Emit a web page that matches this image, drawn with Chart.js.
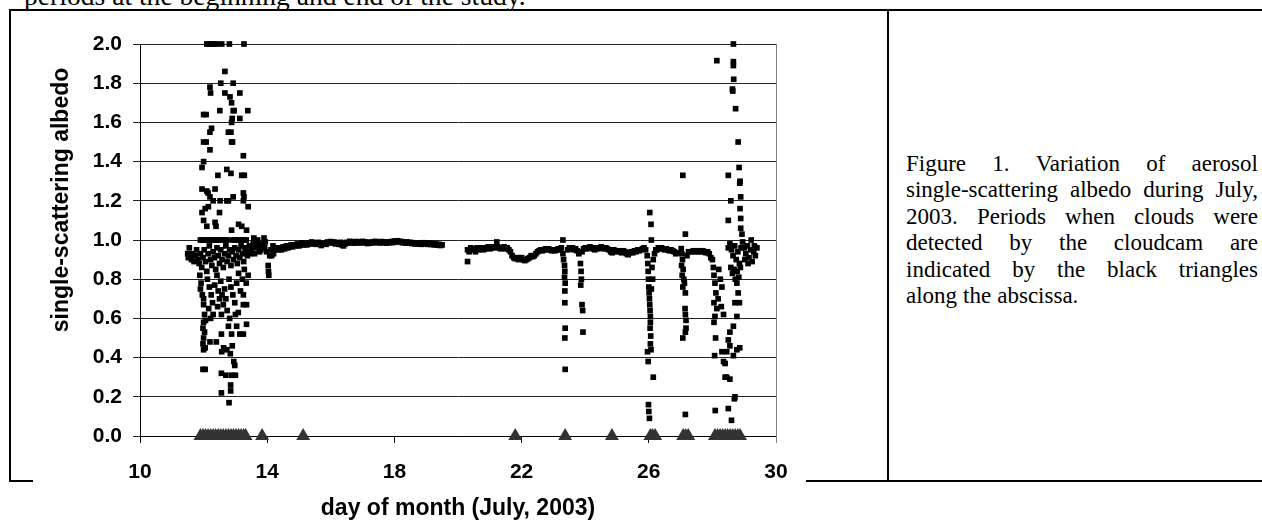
<!DOCTYPE html>
<html>
<head>
<meta charset="utf-8">
<script src="https://cdn.jsdelivr.net/npm/chart.js@4"></script>
<style>
  html, body { margin: 0; padding: 0; background: #fff; }
  body { width: 1262px; height: 520px; position: relative; overflow: hidden; }
  #chart { position: absolute; left: 0; top: 0; }
  .rule { position: absolute; background: #000; }
  #lead { position: absolute; left: 24px; top: -18px; font: 27.6px/27.6px "Liberation Serif", "Times New Roman", serif; white-space: nowrap; }
  #caption { position: absolute; left: 906px; top: 151px; width: 352px; font: 23px "Liberation Serif", "Times New Roman", serif; line-height: 26.4px; }
  #caption div { white-space: nowrap; display: flex; justify-content: space-between; }
  #caption div.last { justify-content: flex-start; gap: 6px; }
</style>
</head>
<body>
<div id="lead">periods at the beginning and end of the study.</div>
<canvas id="chart" width="880" height="522"></canvas>
<div class="rule" style="left:9px; top:9px; width:1253px; height:2px;"></div>
<div class="rule" style="left:9px; top:9px; width:2px; height:473px;"></div>
<div class="rule" style="left:9px; top:480px; width:24px; height:2px;"></div>
<div class="rule" style="left:806px; top:480px; width:456px; height:2px;"></div>
<div class="rule" style="left:887px; top:9px; width:2px; height:473px;"></div>
<div id="caption"></div>

<script>
// single-scattering albedo, [day of July 2003, value]
const earlyBurst = [
  [12.10,2.00],[12.16,2.00],[12.22,2.00],[12.28,2.00],[12.34,2.00],[12.40,2.00],[12.57,2.00],[12.81,2.00],[13.27,2.00],
  [12.67,1.86],[12.54,1.80],[12.93,1.80],[12.20,1.78],[12.22,1.75],[12.67,1.75],[13.14,1.75],[12.83,1.73],[12.88,1.70],
  [12.51,1.66],[12.93,1.66],[12.96,1.66],[13.39,1.66],[13.14,1.62],[12.88,1.60],[12.90,1.62],
  [12.00,1.64],[12.08,1.64],[12.25,1.57],[12.20,1.55],[12.78,1.55],[12.86,1.55],
  [12.00,1.50],[12.08,1.50],[12.20,1.46],[12.88,1.50],[12.91,1.50],[13.25,1.43],
  [12.00,1.40],[11.95,1.37],[12.45,1.33],[12.73,1.36],[12.86,1.34],[13.20,1.33],[13.28,1.33],
  [11.95,1.26],[12.10,1.25],[12.14,1.24],[12.36,1.26],[13.25,1.24],[13.27,1.22],
  [12.20,1.22],[12.30,1.20],[12.52,1.20],[12.73,1.20],[12.78,1.20],[12.93,1.22],[13.25,1.20],
  [11.95,1.14],[12.05,1.16],[12.15,1.17],[12.50,1.14],[13.40,1.17],
  [12.00,1.10],[12.10,1.07],[12.36,1.09],[12.39,1.07],[12.88,1.05],[13.10,1.08],[13.20,1.07],[13.35,1.05],
  [11.90,1.00],[11.96,1.00],[12.02,1.00],[12.08,1.00],[12.14,1.00],[12.20,1.00],[12.26,1.00],[12.32,1.00],
  [12.38,1.00],[12.44,1.00],[12.50,1.00],[12.56,1.00],[12.62,1.00],[12.68,1.00],[12.74,1.00],[12.92,1.00],
  [12.98,1.00],[13.04,1.00],[13.10,1.00],[13.16,1.00],[13.22,1.00],[13.28,1.00],[13.34,1.00],
  [11.55,0.96],[11.50,0.93],[11.52,0.91],[11.58,0.92],[11.62,0.90],[11.66,0.93],[11.70,0.89],[11.74,0.92],
  [11.78,0.95],[11.82,0.90],[11.86,0.88],[11.90,0.93],[11.94,0.86],[11.98,0.91],[12.02,0.95],[12.06,0.89],
  [12.10,0.84],[12.14,0.93],[12.18,0.97],[12.22,0.90],[12.26,0.87],[12.30,0.94],[12.34,0.91],[12.38,0.85],
  [12.42,0.96],[12.46,0.92],[12.50,0.88],[12.54,0.95],[12.58,0.90],[12.62,0.86],[12.66,0.93],[12.70,0.97],
  [12.74,0.89],[12.78,0.92],[12.82,0.95],[12.86,0.87],[12.90,0.94],[12.94,0.90],[12.98,0.96],[13.02,0.92],
  [13.06,0.88],[13.10,0.95],[13.14,0.91],[13.18,0.97],[13.22,0.93],[13.26,0.89],[13.30,0.96],[13.34,0.94],[13.38,0.92],
  [11.88,0.82],[11.92,0.78],[11.90,0.75],[11.96,0.72],[12.00,0.70],[12.00,0.67],[12.03,0.62],[12.00,0.58],
  [12.06,0.59],[11.98,0.55],[12.03,0.53],[12.00,0.50],[11.98,0.47],[12.20,0.48],[12.00,0.44],[12.05,0.45],
  [12.40,0.48],[11.98,0.34],[12.05,0.34],
  [12.12,0.80],[12.18,0.76],[12.24,0.72],[12.28,0.68],[12.16,0.65],[12.30,0.62],[12.22,0.60],[12.35,0.77],
  [12.42,0.82],[12.46,0.74],[12.50,0.70],[12.44,0.66],[12.54,0.79],[12.58,0.72],[12.62,0.67],[12.56,0.62],
  [12.66,0.75],[12.70,0.70],[12.74,0.64],[12.56,0.52],[12.73,0.44],[12.57,0.43],[12.63,0.45],
  [12.56,0.32],[12.70,0.31],[12.56,0.22],[12.80,0.17],[12.85,0.23],[12.85,0.26],[12.88,0.31],[12.98,0.36],
  [13.00,0.31],[12.95,0.38],[12.84,0.42],[12.90,0.46],
  [12.88,0.52],[13.04,0.56],[13.14,0.52],[13.25,0.52],[13.09,0.63],[13.25,0.67],[13.35,0.67],[13.35,0.57],
  [13.25,0.72],[12.80,0.80],[12.86,0.76],[12.92,0.72],[12.98,0.68],[13.04,0.78],[13.10,0.83],[13.16,0.74],
  [13.22,0.80],[13.28,0.85],[13.34,0.78],[13.40,0.82],[13.00,0.62],[12.82,0.60],[12.78,0.56],
  [13.44,0.97],[13.50,0.95],[13.56,0.98],[13.62,0.96],[13.68,0.99],[13.74,0.97],[13.80,0.95],[13.86,0.98],
  [13.92,0.96],[13.98,0.94],[14.03,0.87],[14.04,0.84],[14.05,0.82],[14.08,0.92],[14.12,0.95],[14.18,0.97],
  [14.24,0.95],[14.30,0.96],[13.58,1.01],[13.70,1.00],[13.90,1.01],[13.46,0.93],[13.60,0.93],[13.76,0.94],
  [13.94,0.99],[14.14,0.92],[14.20,0.93],[14.36,0.95],[14.42,0.96]
];

const cleanPeriod = [
  [14.45,0.950],[14.50,0.965],[14.55,0.955],[14.60,0.970],[14.65,0.960],[14.70,0.965],[14.75,0.975],[14.80,0.965],
  [14.85,0.975],[14.90,0.970],[14.95,0.980],[15.00,0.970],[15.05,0.975],[15.10,0.985],[15.15,0.975],[15.20,0.980],
  [15.25,0.975],[15.30,0.985],[15.35,0.980],[15.40,0.990],[15.45,0.980],[15.50,0.985],[15.55,0.978],[15.60,0.988],
  [15.65,0.980],[15.70,0.972],[15.75,0.980],[15.80,0.985],[15.85,0.978],[15.90,0.990],[15.95,0.985],[16.00,0.992],
  [16.05,0.985],[16.10,0.990],[16.15,0.980],[16.20,0.985],[16.25,0.978],[16.30,0.988],[16.35,0.975],[16.40,0.970],
  [16.45,0.980],[16.50,0.988],[16.55,0.985],[16.60,0.993],[16.65,0.985],[16.70,0.990],[16.75,0.984],[16.80,0.992],
  [16.85,0.986],[16.90,0.990],[16.95,0.985],[17.00,0.993],[17.05,0.987],[17.10,0.990],[17.15,0.982],[17.20,0.988],
  [17.25,0.984],[17.30,0.990],[17.35,0.986],[17.40,0.993],[17.45,0.987],[17.50,0.990],[17.55,0.985],[17.60,0.992],
  [17.65,0.986],[17.70,0.990],[17.75,0.984],[17.80,0.990],[17.85,0.986],[17.90,0.992],[17.95,0.987],[18.00,0.995],
  [18.05,0.990],[18.10,0.996],[18.15,0.990],[18.20,0.993],[18.25,0.986],[18.30,0.990],[18.35,0.984],[18.40,0.990],
  [18.45,0.985],[18.50,0.988],[18.55,0.982],[18.60,0.986],[18.65,0.980],[18.70,0.985],[18.75,0.979],[18.80,0.984],
  [18.85,0.978],[18.90,0.986],[18.95,0.980],[19.00,0.984],[19.05,0.978],[19.10,0.983],[19.15,0.977],[19.20,0.982],
  [19.25,0.975],[19.30,0.980],[19.35,0.974],[19.40,0.978],[19.45,0.972],[19.50,0.975]
];

const midPeriod = [
  [20.30,0.89],[20.30,0.95],[20.35,0.94],[20.40,0.96],[20.45,0.95],[20.50,0.955],[20.55,0.94],[20.60,0.96],
  [20.65,0.95],[20.70,0.955],[20.75,0.96],[20.80,0.95],[20.85,0.955],[20.90,0.96],[20.95,0.965],[21.00,0.955],
  [21.05,0.96],[21.10,0.965],[21.15,0.96],[21.22,0.99],[21.25,0.965],[21.30,0.96],[21.35,0.955],[21.40,0.96],
  [21.45,0.965],[21.50,0.955],[21.55,0.96],[21.60,0.95],[21.65,0.94],[21.70,0.92],[21.75,0.91],[21.80,0.905],
  [21.85,0.91],[21.90,0.90],[21.95,0.905],[22.00,0.91],[22.05,0.90],[22.10,0.895],[22.15,0.90],[22.20,0.905],
  [22.25,0.91],[22.30,0.92],[22.35,0.915],[22.40,0.92],[22.45,0.93],[22.50,0.94],[22.55,0.945],[22.60,0.95],
  [22.65,0.945],[22.70,0.95],[22.75,0.955],[22.80,0.95],[22.85,0.955],[22.90,0.95],[22.95,0.945],[23.00,0.95],
  [23.05,0.945],[23.10,0.95],[23.15,0.955],[23.20,0.95],[23.25,0.96],[23.30,1.00],[23.30,0.93],[23.32,0.90],
  [23.35,0.87],[23.36,0.84],[23.35,0.81],[23.37,0.78],[23.36,0.74],[23.36,0.68],[23.37,0.55],[23.36,0.50],[23.37,0.34],
  [23.45,0.95],[23.50,0.96],[23.55,0.955],[23.60,0.96],[23.65,0.95],[23.70,0.955],[23.75,0.945],[23.80,0.93],
  [23.85,0.88],[23.87,0.84],[23.88,0.80],[23.86,0.77],[23.90,0.67],[23.92,0.64],[23.93,0.53],
  [23.90,0.94],[23.95,0.955],[24.00,0.96],[24.05,0.955],[24.10,0.96],[24.15,0.965],[24.20,0.96],[24.25,0.955],
  [24.30,0.95],[24.35,0.96],[24.40,0.955],[24.45,0.96],[24.50,0.965],[24.55,0.96],[24.60,0.955],[24.65,0.96],
  [24.70,0.955],[24.75,0.95],[24.80,0.94],[24.85,0.935],[24.90,0.95],[24.95,0.945],[25.00,0.94],[25.05,0.945],
  [25.10,0.94],[25.15,0.935],[25.20,0.945],[25.25,0.94],[25.30,0.93],[25.35,0.925],[25.40,0.935],[25.45,0.94],
  [25.50,0.935],[25.55,0.945],[25.60,0.94],[25.65,0.95],[25.70,0.945],[25.75,0.95],[25.80,0.955],[25.85,0.96],[25.90,0.95]
];

const lateEvents = [
  [25.95,0.92],[25.97,0.88],[25.98,0.84],[25.99,0.80],[26.00,0.76],[26.01,0.73],[26.02,0.70],[26.03,0.67],
  [26.04,0.64],[26.05,0.61],[26.05,0.58],[26.04,0.55],[26.06,0.51],[26.05,0.47],[26.07,0.44],[25.96,0.43],
  [25.98,0.38],[26.14,0.30],[25.99,0.16],[26.00,0.125],[26.02,0.09],[26.03,1.14],[26.07,1.08],[26.08,1.00],
  [26.10,0.86],[26.12,0.80],[26.08,0.75],[26.14,0.90],[26.18,0.93],[26.22,0.95],
  [26.25,0.95],[26.30,0.96],[26.35,0.955],[26.40,0.96],[26.45,0.955],[26.50,0.95],[26.55,0.955],[26.60,0.95],
  [26.65,0.945],[26.70,0.95],[26.75,0.945],[26.80,0.94],[26.85,0.93],[26.90,0.935],
  [27.07,1.33],[27.15,1.03],[27.02,0.956],[27.04,0.93],[27.06,0.90],[27.03,0.87],[27.08,0.85],[27.05,0.82],
  [27.10,0.80],[27.12,0.78],[27.07,0.76],[27.15,0.73],[27.14,0.65],[27.15,0.62],[27.17,0.59],[27.17,0.55],
  [27.15,0.53],[27.07,0.50],[27.15,0.11],[27.20,0.92],[27.25,0.94],
  [27.35,0.94],[27.40,0.945],[27.45,0.94],[27.50,0.945],[27.55,0.94],[27.60,0.945],[27.65,0.94],[27.70,0.945],
  [27.75,0.94],[27.80,0.935],[27.85,0.94],[27.90,0.93],[27.95,0.91],
  [28.00,0.90],[28.03,0.86],[28.05,0.82],[28.08,0.78],[28.11,0.73],[28.05,0.68],[28.14,0.65],[28.08,0.61],
  [28.05,0.58],[28.10,0.50],[28.07,0.41],[28.14,1.915],[28.09,0.13],[28.30,0.43],[28.35,0.38],[28.40,0.30],
  [28.50,1.33],[28.58,1.20],[28.50,1.10],[28.50,0.96],[28.20,0.85],[28.25,0.80],[28.30,0.76],[28.18,0.70],
  [28.28,0.66],[28.35,0.62]
];

const finalBurst = [
  [28.66,2.00],[28.66,1.91],[28.66,1.89],[28.67,1.82],[28.63,1.77],[28.64,1.76],[28.73,1.67],[28.81,1.50],
  [28.84,1.37],[28.87,1.30],[28.86,1.29],[28.89,1.22],[28.87,1.16],[28.89,1.11],[28.89,1.06],[28.93,1.03],
  [28.55,0.98],[28.60,0.95],[28.65,0.92],[28.70,0.97],[28.75,0.90],[28.80,0.94],[28.85,0.88],[28.90,0.96],
  [28.58,0.86],[28.63,0.83],[28.68,0.85],[28.72,0.80],[28.78,0.84],[28.83,0.81],[28.88,0.86],
  [28.77,0.78],[28.81,0.73],[28.71,0.68],[28.85,0.68],[28.77,0.61],[28.66,0.56],[28.55,0.53],[28.50,0.49],
  [28.55,0.46],[28.77,0.44],[28.86,0.45],[28.45,0.43],[28.66,0.41],[28.40,0.37],[28.45,0.30],[28.55,0.29],
  [28.71,0.20],[28.69,0.19],[28.50,0.14],[28.60,0.08],
  [28.95,0.99],[29.00,0.96],[29.05,0.93],[29.10,0.97],[29.15,0.91],[29.20,0.95],[29.25,0.89],[29.30,0.94],
  [29.35,0.92],[29.40,0.96],[29.02,0.90],[29.12,0.88],[29.22,1.00],[29.32,0.97]
];

// cloudcam detections, plotted on the abscissa
const cloudDays = [
  11.90, 11.98, 12.06, 12.14, 12.22, 12.30, 12.38, 12.46, 12.54, 12.62, 12.70, 12.78, 12.86, 12.94,
  13.02, 13.10, 13.18, 13.26, 13.32, 13.84, 15.13, 21.80, 23.37, 24.84,
  26.05, 26.12, 26.20, 27.08, 27.16, 27.24,
  28.08, 28.16, 28.24, 28.32, 28.40, 28.48, 28.56, 28.64, 28.72, 28.80, 28.87
];

const yTicks = [0, 0.2, 0.4, 0.6, 0.8, 1.0, 1.2, 1.4, 1.6, 1.8, 2.0];
const xTicks = [10, 14, 18, 22, 26, 30];

const captionLines = [
  'Figure 1.  Variation of aerosol',
  'single-scattering albedo during July,',
  '2003.  Periods when clouds were',
  'detected by the cloudcam are',
  'indicated by the black triangles',
  'along the abscissa.'
];

const cap = document.getElementById('caption');
captionLines.forEach((line, i) => {
  const row = document.createElement('div');
  if (i === captionLines.length - 1) row.className = 'last';
  line.split(/\s+/).forEach(w => {
    const s = document.createElement('span');
    s.textContent = w;
    row.appendChild(s);
  });
  cap.appendChild(row);
});

const tickFont = { family: '"Liberation Sans", Arial, sans-serif', size: 21, weight: 'bold' };
const titleFont = { family: '"Liberation Sans", Arial, sans-serif', size: 23, weight: 'bold' };

const toXY = p => ({ x: p[0], y: p[1] });
const albedoData = [].concat(earlyBurst, cleanPeriod, midPeriod, lateEvents, finalBurst).map(toXY);
const cloudData = cloudDays.map(d => ({ x: d, y: 0 }));

const yTitle = {
  id: 'yTitle',
  afterDraw(chart) {
    const c = chart.ctx;
    c.save();
    c.translate(62, 200);
    c.rotate(-Math.PI / 2);
    c.font = 'bold 23px "Liberation Sans", Arial, sans-serif';
    c.fillStyle = '#000';
    c.textAlign = 'center';
    c.textBaseline = 'middle';
    c.fillText('single-scattering albedo', 0, 0);
    c.restore();
  }
};

const rightEdge = {
  id: 'rightEdge',
  beforeDatasetsDraw(chart) {
    const {ctx, chartArea} = chart;
    ctx.save();
    ctx.strokeStyle = '#808080';
    ctx.lineWidth = 1;
    ctx.beginPath();
    ctx.moveTo(chartArea.right + 0.5, chartArea.top);
    ctx.lineTo(chartArea.right + 0.5, chartArea.bottom + 7);
    ctx.stroke();
    ctx.restore();
  }
};

new Chart(document.getElementById('chart'), {
  type: 'scatter',
  data: {
    datasets: [
      {
        data: albedoData,
        pointStyle: 'rect',
        pointRadius: 4,
        backgroundColor: '#000',
        borderWidth: 0,
        clip: false
      },
      {
        data: cloudData,
        pointStyle: 'triangle',
        pointRadius: 8,
        backgroundColor: '#333',
        borderWidth: 0,
        clip: false
      }
    ]
  },
  options: {
    responsive: false,
    animation: false,
    layout: { padding: { left: 0, right: 104, top: 44, bottom: 0 } },
    plugins: { legend: { display: false }, tooltip: { enabled: false } },
    scales: {
      x: {
        type: 'linear',
        min: 10,
        max: 30,
        afterBuildTicks: s => { s.ticks = xTicks.map(v => ({ value: v })); },
        afterFit: s => { s.height = 86; },
        ticks: { font: tickFont, color: '#000', padding: 17, maxRotation: 0 },
        grid: { drawOnChartArea: false, tickLength: 7, color: '#000' },
        border: { color: '#000' },
        title: { display: true, text: 'day of month (July, 2003)', font: titleFont, color: '#000', padding: 0 }
      },
      y: {
        min: 0,
        max: 2,
        afterBuildTicks: s => { s.ticks = yTicks.map(v => ({ value: v })); },
        afterFit: s => { s.width = 140; },
        ticks: { font: tickFont, color: '#000', padding: 11, callback: v => v.toFixed(1) },
        grid: { color: '#222', tickLength: 7 },
        border: { color: '#000' }
      }
    }
  },
  plugins: [yTitle, rightEdge]
});
</script>
</body>
</html>
